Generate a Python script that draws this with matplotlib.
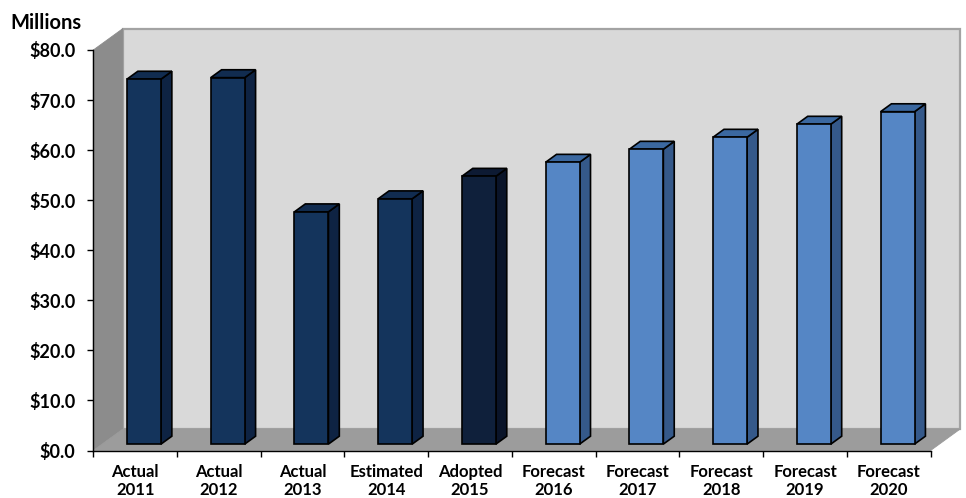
import matplotlib
matplotlib.use("Agg")
import matplotlib.pyplot as plt
from matplotlib.patches import Polygon
from matplotlib.ticker import FixedLocator

# Revenue by fiscal year (millions of dollars)
kinds = ["Actual", "Actual", "Actual", "Estimated", "Adopted",
         "Forecast", "Forecast", "Forecast", "Forecast", "Forecast"]
years = ["2011", "2012", "2013", "2014", "2015",
         "2016", "2017", "2018", "2019", "2020"]
values = [72.9, 73.2, 46.4, 49.0, 53.5, 56.3, 58.9, 61.3, 63.9, 66.4]

y_ticks = [0, 10, 20, 30, 40, 50, 60, 70, 80]

# face colours (front, side, top) per bar kind
palette = {
    "Actual":    ("#14345c", "#0e2343", "#112c50"),
    "Estimated": ("#14345c", "#0e2343", "#112c50"),
    "Adopted":   ("#0f203b", "#0a1429", "#0d1a33"),
    "Forecast":  ("#5586c5", "#35598a", "#3b68a0"),
}

plt.rcParams["font.family"] = ["Lato", "DejaVu Sans"]
plt.rcParams["font.weight"] = "bold"

W, H = 966, 498
fig = plt.figure(figsize=(W / 100, H / 100), dpi=100)
ax = fig.add_axes([93.3 / W, 47.5 / H, 837.3 / W, 400.5 / H])
n = len(values)
ax.set_xlim(-0.5, n - 0.5)
ax.set_ylim(0, 80)

# oblique depth offset of the plot box, in data units
DX, DY = 0.351, 4.26
x0, x1 = -0.5, n - 0.5
ytop = y_ticks[-1]


def poly(pts, fc, ec, lw, z):
    ax.add_patch(Polygon(pts, closed=True, facecolor=fc, edgecolor=ec,
                         linewidth=lw, clip_on=False, zorder=z,
                         joinstyle="miter"))


# back wall, side wall, floor
poly([(x0 + DX, DY), (x1 + DX, DY), (x1 + DX, ytop + DY), (x0 + DX, ytop + DY)],
     "#d9d9d9", "#a3a3a3", 1.6, 0)
poly([(x0, 0), (x0, ytop), (x0 + DX, ytop + DY), (x0 + DX, DY)],
     "#8c8c8c", "#8c8c8c", 0.6, 1)
poly([(x0, 0), (x1, 0), (x1 + DX, DY), (x0 + DX, DY)],
     "#9c9c9c", "#9a9a9a", 0.6, 1)

# 3-D columns
bw = 0.406            # column width in category units
f0, f1 = 0.30, 0.67   # front and back depth of each column
for i, (k, v) in enumerate(zip(kinds, values)):
    front, side, top = palette[k]
    xl = i + f0 * DX - bw / 2
    xr = xl + bw
    yb = f0 * DY
    yt = v + f0 * DY
    ddx, ddy = (f1 - f0) * DX, (f1 - f0) * DY
    poly([(xr, yb), (xr + ddx, yb + ddy), (xr + ddx, yt + ddy), (xr, yt)],
         side, "black", 1.2, 3)
    poly([(xl, yt), (xr, yt), (xr + ddx, yt + ddy), (xl + ddx, yt + ddy)],
         top, "black", 1.2, 3)
    poly([(xl, yb), (xr, yb), (xr, yt), (xl, yt)],
         front, "black", 1.2, 4)

# axes styling
for s in ("top", "right"):
    ax.spines[s].set_visible(False)
for s in ("left", "bottom"):
    ax.spines[s].set_color("black")
    ax.spines[s].set_linewidth(1.0)
    ax.spines[s].set_zorder(5)
ax.set_facecolor("none")

ax.set_yticks(y_ticks)
ax.set_yticklabels([f"${t:.1f}" for t in y_ticks])
ax.tick_params(axis="y", direction="out", length=4, width=1, pad=9,
               labelsize=13)

ax.set_xticks(range(n))
ax.set_xticklabels([f"{k}\n{y}" for k, y in zip(kinds, years)],
                   linespacing=1.18)
ax.xaxis.set_minor_locator(FixedLocator([i - 0.5 for i in range(n + 1)]))
ax.tick_params(axis="x", which="major", length=0, pad=9.5, labelsize=12)
ax.tick_params(axis="x", which="minor", direction="out", length=4.5, width=1)

fig.text(10 / W, 1 - 29 / H, "Millions", fontsize=14.5, fontweight="bold",
         ha="left", va="baseline")

fig.savefig("out.png", dpi=100, facecolor="white")
